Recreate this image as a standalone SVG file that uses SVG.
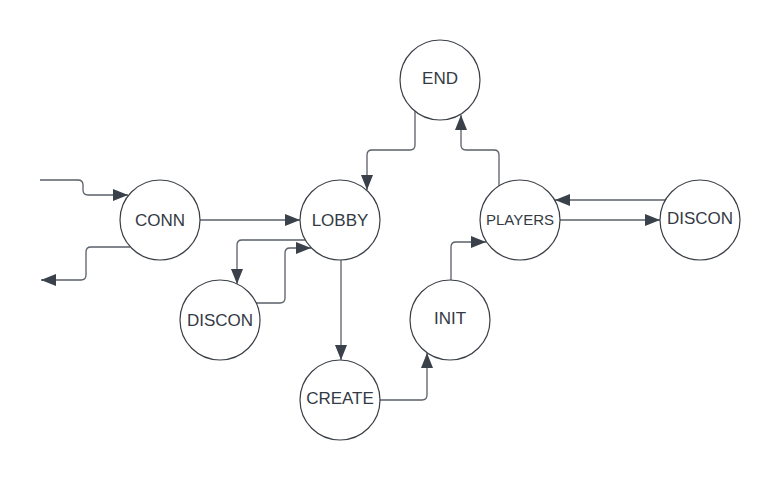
<svg xmlns="http://www.w3.org/2000/svg" width="780" height="480" viewBox="0 0 780 480">
<style>
.node circle{fill:#fff;stroke:#3a3f46;stroke-width:1.2}
.node text{font-family:"Liberation Sans",Arial,sans-serif;font-size:17px;fill:#333a43;text-anchor:middle;dominant-baseline:central}
.edge{fill:none;stroke:#5a6068;stroke-width:1.3;marker-end:url(#arr)}
</style>
<defs>
<marker id="arr" markerUnits="userSpaceOnUse" markerWidth="16" markerHeight="12" refX="15" refY="6" orient="auto">
<path d="M0,0 L15,6 L0,12 Z" fill="#3a414a"/>
</marker>
</defs>
<rect width="780" height="480" fill="#fff"/>
<g id="connectors">
<path class="edge" d="M40,180 H78 Q83,180 83,185 V190 Q83,195 88,195 H128"/>
<path class="edge" d="M130,247 H91 Q86,247 86,252 V275 Q86,280 81,280 H41"/>
<path class="edge" d="M200,220 H300"/>
<path class="edge" d="M305,240 H242 Q237,240 237,245 V284"/>
<path class="edge" d="M256,303 H280 Q285,303 285,298 V253 Q285,248 290,248 H311"/>
<path class="edge" d="M341,260 V360"/>
<path class="edge" d="M380,400 H422 Q427,400 427,395 V353"/>
<path class="edge" d="M451,280 V247 Q451,242 456,242 H486"/>
<path class="edge" d="M499,186 V155 Q499,150 494,150 H466 Q461,150 461,145 V115"/>
<path class="edge" d="M415,111 V145 Q415,150 410,150 H372 Q367,150 367,155 V190"/>
<path class="edge" d="M665,200 H555"/>
<path class="edge" d="M560,220 H660"/>
</g>
<g id="conn" class="node"><circle cx="160" cy="220" r="40"/><text x="160" y="220">CONN</text></g>
<g id="lobby" class="node"><circle cx="340" cy="220" r="40"/><text x="340" y="220">LOBBY</text></g>
<g id="discon1" class="node"><circle cx="220" cy="320" r="40"/><text x="220" y="320">DISCON</text></g>
<g id="end" class="node"><circle cx="440" cy="80" r="40"/><text x="440" y="78">END</text></g>
<g id="players" class="node"><circle cx="520" cy="220" r="40"/><text x="520" y="219" style="font-size:15px">PLAYERS</text></g>
<g id="discon2" class="node"><circle cx="700" cy="220" r="40"/><text x="700" y="218">DISCON</text></g>
<g id="init" class="node"><circle cx="450" cy="320" r="40"/><text x="450" y="318">INIT</text></g>
<g id="create" class="node"><circle cx="340" cy="400" r="40"/><text x="340" y="398">CREATE</text></g>
</svg>
